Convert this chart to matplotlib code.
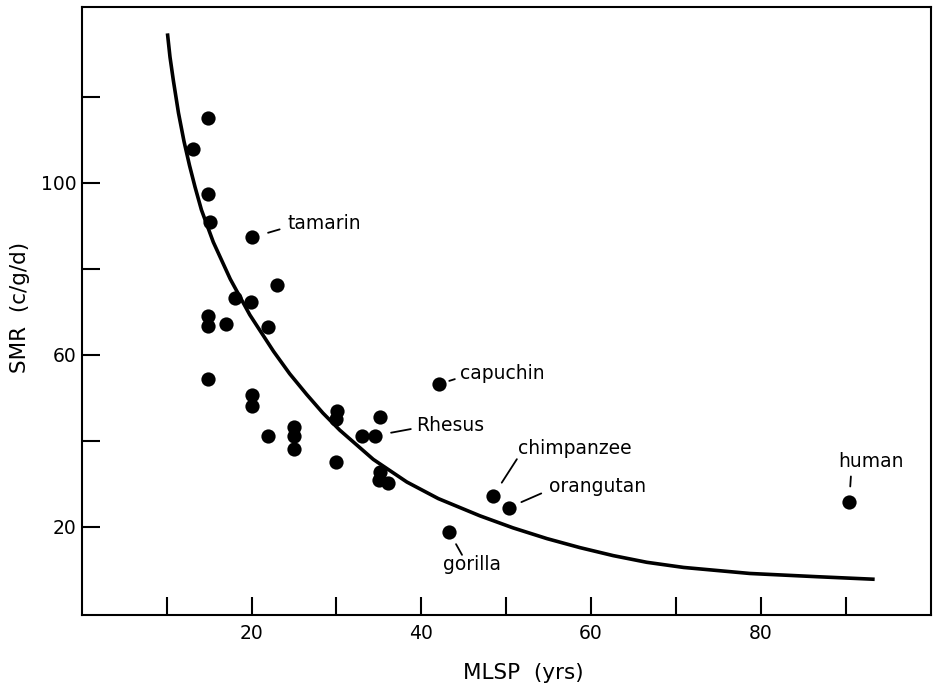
import matplotlib
matplotlib.use("Agg")
import matplotlib.pyplot as plt

# ---- data ----
mlsp = [13.1, 14.9, 14.9, 15.1, 20.1, 23.0, 18.0, 19.9, 14.9, 14.9, 17.0, 22.0,
        14.9, 20.1, 20.1, 22.0, 25.0, 25.0, 25.0, 30.1, 30.0, 30.0, 33.0, 34.5,
        35.1, 35.1, 35.0, 36.1, 42.1, 43.3, 48.5, 50.3, 90.4]
smr = [107.8, 115.0, 97.3, 90.8, 87.3, 76.2, 73.1, 72.2, 69.1, 66.6, 67.2, 66.5,
       54.3, 50.7, 48.1, 41.2, 43.2, 41.2, 38.2, 47.0, 45.0, 35.0, 41.2, 41.2,
       45.6, 32.7, 30.9, 30.3, 53.2, 18.8, 27.3, 24.5, 25.7]

curve_x = [10.1, 10.4, 10.8, 11.4, 12.05, 12.7, 13.35, 14.1, 15.5, 17.5, 19.8,
           22.6, 24.5, 26.5, 28.4, 30.4, 34.35, 38.3, 42.0, 46.9, 50.8, 54.8,
           58.7, 62.6, 66.55, 70.9, 78.7, 86.6, 93.4]
curve_y = [134.7, 129.2, 123.7, 116.2, 109.6, 104.0, 99.0, 93.7, 86.2, 77.6,
           69.3, 60.8, 55.6, 50.8, 46.5, 42.5, 35.7, 30.45, 26.6, 22.6, 19.8,
           17.3, 15.2, 13.35, 11.8, 10.6, 9.2, 8.45, 7.85]

label_names = ["tamarin", "capuchin", "Rhesus", "chimpanzee", "orangutan",
               "gorilla", "human"]
label_index = [4, 28, 23, 30, 31, 29, 32]

x_ticks = [10, 20, 30, 40, 50, 60, 70, 80, 90]
x_tick_labels = ["", "20", "", "40", "", "60", "", "80", ""]
y_ticks = [20, 40, 60, 80, 100, 120]
y_tick_labels = ["20", "", "60", "", "100", ""]

x_title = "MLSP  (yrs)"
y_title = "SMR  (c/g/d)"

# ---- layout / style ----
# text offset (pixels, y up) and leader line near/far offsets (pixels)
text_off = {"tamarin": (35, 8), "capuchin": (21, 5), "Rhesus": (42, 5),
            "chimpanzee": (25, 42), "orangutan": (40, 16), "gorilla": (-6, -38),
            "human": (-11, 35)}
lead_near = {"tamarin": (15.6, 5), "capuchin": (10, 3.6), "Rhesus": (16.5, 3),
             "chimpanzee": (9, 12.4), "orangutan": (12.5, 5.8), "gorilla": (6.7, -12),
             "human": (1, 16)}
lead_far = {"tamarin": (27.3, 8), "capuchin": (15.7, 5), "Rhesus": (36.2, 6.7),
            "chimpanzee": (23.4, 36.4), "orangutan": (32.5, 14.2), "gorilla": (12.7, -22.7),
            "human": (1.7, 26)}

plt.rcParams["font.family"] = ["DejaVu Sans"]
fig = plt.figure(figsize=(9.33, 6.86), dpi=100)
ax = fig.add_axes([81.7 / 933, (686 - 615) / 686, 849 / 933, (615 - 6.7) / 686])

ax.plot(curve_x, curve_y, color="black", lw=2.6, solid_capstyle="butt",
        solid_joinstyle="round", zorder=2)
ax.scatter(mlsp, smr, s=105, color="black", zorder=3, linewidths=0)

px2pt = 72.0 / fig.dpi
for name, idx in zip(label_names, label_index):
    x, y = mlsp[idx], smr[idx]
    tx, ty = text_off[name]
    ax.annotate(name, xy=(x, y), xytext=(tx, ty), textcoords="offset pixels",
                ha="left", va="baseline", fontsize=13.5, color="black")
    nx, ny = lead_near[name]
    fx, fy = lead_far[name]
    d = (nx ** 2 + ny ** 2) ** 0.5
    ax.annotate("", xy=(x, y), xytext=(fx, fy), textcoords="offset pixels",
                arrowprops=dict(arrowstyle="-", color="black", lw=1.3,
                                shrinkA=0, shrinkB=d * px2pt))

ax.set_xlim(0, 100)
ax.set_ylim(-0.45, 140.9)
ax.set_xticks(x_ticks)
ax.set_xticklabels(x_tick_labels)
ax.set_yticks(y_ticks)
ax.set_yticklabels(y_tick_labels)
ax.tick_params(axis="both", direction="in", length=13, width=1.5,
               labelsize=13.5, colors="black")
ax.tick_params(axis="x", pad=6.5)
ax.tick_params(axis="y", pad=4)
for s in ax.spines.values():
    s.set_linewidth(1.5)
    s.set_color("black")

ax.set_xlabel(x_title, fontsize=15.5)
ax.xaxis.set_label_coords(0.5196, -0.0784)
ax.set_ylabel(y_title, fontsize=15.5)
ax.yaxis.set_label_coords(-0.061, 0.505)

fig.savefig("out.png", dpi=100, facecolor="white")
